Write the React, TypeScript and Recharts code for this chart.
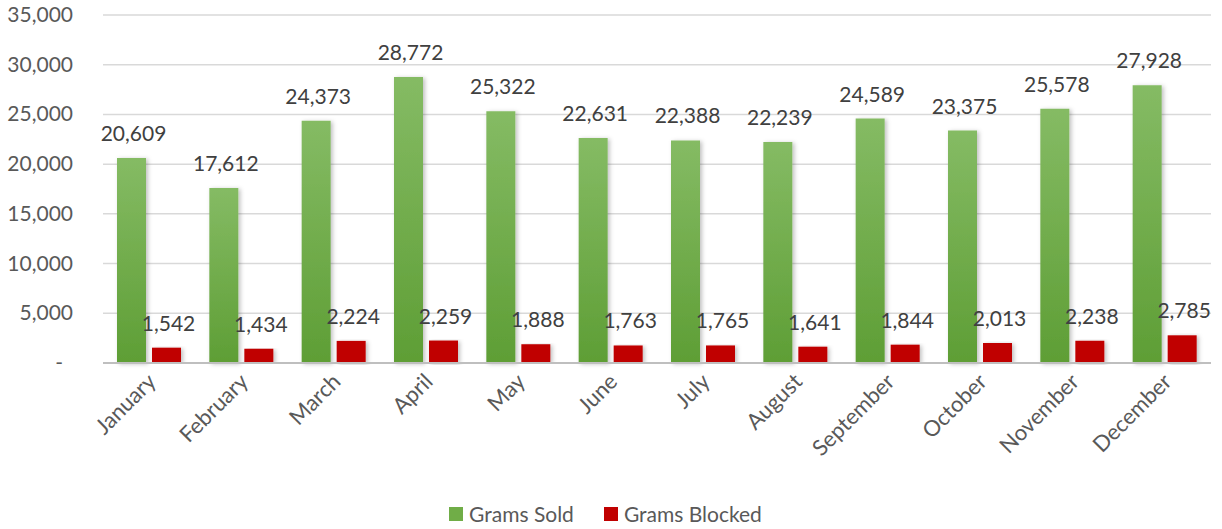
import { Bar, BarChart, CartesianGrid, LabelList, Legend, XAxis, YAxis } from "recharts";

document.body.style.margin = "0";

const months = [
  "January", "February", "March", "April", "May", "June",
  "July", "August", "September", "October", "November", "December",
];
const gramsSold = [20609, 17612, 24373, 28772, 25322, 22631, 22388, 22239, 24589, 23375, 25578, 27928];
const gramsBlocked = [1542, 1434, 2224, 2259, 1888, 1763, 1765, 1641, 1844, 2013, 2238, 2785];
const yTicks = [0, 5000, 10000, 15000, 20000, 25000, 30000, 35000];

const rows = months.map((month, i) => ({ month, sold: gramsSold[i], blocked: gramsBlocked[i] }));

const FONT = "Lato, 'Open Sans', sans-serif";
const fmt = (v: number) => v.toLocaleString("en-US");

function YTick({ x, y, payload }: any) {
  const zero = payload.value === 0;
  return (
    <text x={zero ? x - 10 : x} y={y} dy={7} textAnchor="end" fill="#595959" fontSize={21} fontFamily={FONT}>
      {zero ? "-" : fmt(payload.value)}
    </text>
  );
}

function XTick({ x, y, payload }: any) {
  return (
    <text
      x={x + 8}
      y={y + 12}
      textAnchor="end"
      fill="#595959"
      fontSize={22}
      fontFamily={FONT}
      transform={`rotate(-45, ${x + 8}, ${y + 12})`}
    >
      {payload.value}
    </text>
  );
}

function TopLabel({ x, y, width, value }: any) {
  return (
    <text x={x + width / 2 + 2} y={y - 17} textAnchor="middle" fill="#404040" fontSize={21} fontFamily={FONT}>
      {fmt(value)}
    </text>
  );
}

function LegendBox() {
  const items = [
    { name: "Grams Sold", color: "#70ad47" },
    { name: "Grams Blocked", color: "#c00000" },
  ];
  return (
    <div style={{ display: "flex", justifyContent: "center", gap: 30, fontFamily: FONT, fontSize: 21, color: "#595959" }}>
      {items.map((it) => (
        <div key={it.name} style={{ display: "flex", alignItems: "center", gap: 6 }}>
          <span style={{ width: 14, height: 14, background: it.color, display: "inline-block" }} />
          {it.name}
        </div>
      ))}
    </div>
  );
}

export default function App() {
  return (
    <BarChart
      width={1222}
      height={529}
      data={rows}
      margin={{ top: 15, right: 11, bottom: 0, left: 0 }}
      barCategoryGap="15%"
      barGap={6}
    >
      <defs>
        <linearGradient id="greenFill" x1="0" y1="0" x2="0" y2="1">
          <stop offset="0%" stopColor="#85bb64" />
          <stop offset="100%" stopColor="#5e9e35" />
        </linearGradient>
        <filter id="barShadow" x="-20%" y="-5%" width="150%" height="110%">
          <feDropShadow dx={2} dy={1} stdDeviation={2} floodColor="#000" floodOpacity={0.25} />
        </filter>
      </defs>
      <CartesianGrid vertical={false} stroke="#d9d9d9" strokeWidth={1.5} />
      <XAxis
        dataKey="month"
        height={138}
        tick={<XTick />}
        tickLine={false}
        axisLine={{ stroke: "#bfbfbf", strokeWidth: 2 }}
        interval={0}
      />
      <YAxis
        width={103}
        domain={[0, 35000]}
        ticks={yTicks}
        tick={<YTick />}
        tickLine={false}
        axisLine={false}
        tickSize={0}
        tickMargin={30}
      />
      <Legend verticalAlign="bottom" height={28} content={<LegendBox />} />
      <Bar dataKey="sold" name="Grams Sold" fill="url(#greenFill)" barSize={29} filter="url(#barShadow)" isAnimationActive={false}>
        <LabelList dataKey="sold" content={<TopLabel />} />
      </Bar>
      <Bar dataKey="blocked" name="Grams Blocked" fill="#c00000" barSize={29} filter="url(#barShadow)" isAnimationActive={false}>
        <LabelList dataKey="blocked" content={<TopLabel />} />
      </Bar>
    </BarChart>
  );
}
